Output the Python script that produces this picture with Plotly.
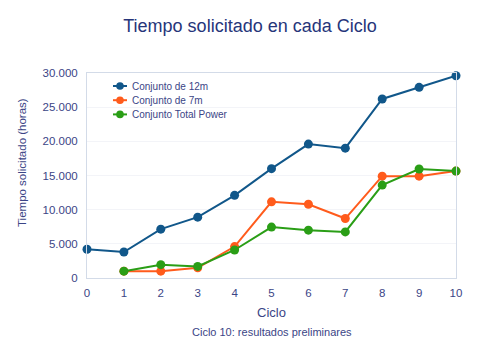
import plotly.graph_objects as go

ciclos = [0, 1, 2, 3, 4, 5, 6, 7, 8, 9, 10]
conjunto_12m = [4200, 3800, 7150, 8900, 12100, 16000, 19600, 19000, 26200, 27900, 29600]
ciclos_7m = [1, 2, 3, 4, 5, 6, 7, 8, 9, 10]
conjunto_7m = [1000, 1000, 1500, 4600, 11150, 10800, 8700, 14900, 14900, 15650]
ciclos_tp = [1, 2, 3, 4, 5, 6, 7, 8, 9, 10]
conjunto_tp = [1000, 1950, 1700, 4100, 7450, 7000, 6750, 13600, 15950, 15650]

nombres = ["Conjunto de 12m", "Conjunto de 7m", "Conjunto Total Power"]
colores = ["#11578a", "#ff5b1c", "#2a9e16"]

text_color = "#3b4586"
font_family = "Liberation Sans, Arial, sans-serif"

W, H = 500, 348
ML, MR, MT, MB = 87, 44, 73, 70
PW, PH = W - ML - MR, H - MT - MB


def px_x(x):
    return (x - ML) / PW


def px_y(y):
    return 1 - (y - MT) / PH


fig = go.Figure()
for name, xs, ys, color in zip(nombres, [ciclos, ciclos_7m, ciclos_tp],
                               [conjunto_12m, conjunto_7m, conjunto_tp], colores):
    fig.add_trace(go.Scatter(
        x=xs, y=ys, name=name, mode="lines+markers",
        line=dict(color=color, width=2),
        marker=dict(color=color, size=9),
        cliponaxis=False, showlegend=False,
    ))

# compact legend drawn in the upper-left corner of the plot area
shapes, annotations = [], []
for i, (name, color) in enumerate(zip(nombres, colores)):
    yp = px_y(86 + 14.2 * i)
    shapes.append(dict(type="line", xref="paper", yref="paper",
                       x0=px_x(113), x1=px_x(127), y0=yp, y1=yp,
                       line=dict(color=color, width=2)))
    shapes.append(dict(type="circle", xref="paper", yref="paper",
                       xsizemode="pixel", ysizemode="pixel",
                       xanchor=px_x(120), yanchor=yp,
                       x0=-3.8, x1=3.8, y0=-3.8, y1=3.8,
                       fillcolor=color, line=dict(color=color, width=0)))
    annotations.append(dict(text=name, xref="paper", yref="paper",
                            x=px_x(130), y=yp, xanchor="left", yanchor="middle",
                            showarrow=False, font=dict(size=10, color=text_color)))

annotations.append(dict(text="Tiempo solicitado (horas)", xref="paper", yref="paper",
                        x=px_x(22), y=px_y(163), xanchor="center", yanchor="middle",
                        textangle=-90, showarrow=False,
                        font=dict(size=11.5, color=text_color)))
annotations.append(dict(text="Ciclo 10: resultados preliminares", xref="paper", yref="paper",
                        x=0.5, y=px_y(332), xanchor="center", yanchor="middle",
                        showarrow=False, font=dict(size=11, color=text_color)))

fig.update_layout(
    width=W, height=H,
    margin=dict(l=ML, r=MR, t=MT, b=MB),
    paper_bgcolor="white", plot_bgcolor="white",
    separators=",.",
    font=dict(family=font_family, color=text_color, size=11),
    title=dict(text="Tiempo solicitado en cada Ciclo", x=0.5, xanchor="center",
               y=1 - 26 / H, yanchor="middle",
               font=dict(size=18, color="#26357a")),
    xaxis=dict(range=[0, 10], tickmode="linear", dtick=1, showgrid=False,
               zeroline=False, showline=True, mirror=True, linecolor="#d3dbe8",
               linewidth=1, ticks="", tickfont=dict(size=11.5), ticklabelstandoff=4,
               title=dict(text="Ciclo", font=dict(size=13), standoff=10)),
    yaxis=dict(range=[0, 30000], tickmode="linear", dtick=5000, tickformat=",d",
               showgrid=True, gridcolor="#f3f4f8", zeroline=False,
               showline=True, mirror=True, linecolor="#d3dbe8", linewidth=1,
               ticks="", tickfont=dict(size=11.5), ticklabelstandoff=6),
    shapes=shapes,
    annotations=annotations,
)

fig.write_html("out.html")
